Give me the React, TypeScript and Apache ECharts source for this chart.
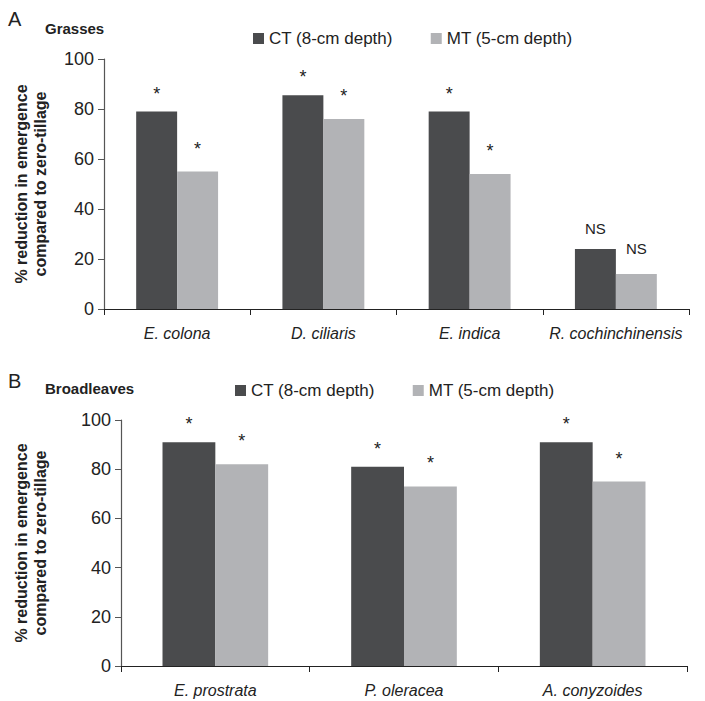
import React, { useEffect, useRef } from "react";
import * as echarts from "echarts";

const grassCats = ["E. colona", "D. ciliaris", "E. indica", "R. cochinchinensis"];
const grassCT = [79, 85.5, 79, 24];
const grassMT = [55, 76, 54, 14];
const grassSigCT = ["*", "*", "*", "NS"];
const grassSigMT = ["*", "*", "*", "NS"];

const broadCats = ["E. prostrata", "P. oleracea", "A. conyzoides"];
const broadCT = [91, 81, 91];
const broadMT = [82, 73, 75];
const broadSigCT = ["*", "*", "*"];
const broadSigMT = ["*", "*", "*"];

const seriesNames = ["CT (8-cm depth)", "MT (5-cm depth)"];

const DARK = "#4a4b4d";
const LIGHT = "#b2b3b6";
const FONT = "'Liberation Sans', Arial, sans-serif";

function sigData(values: number[], sig: string[], baseDist: number) {
  return values.map((v, i) => {
    const isNS = sig[i] === "NS";
    return {
      value: v,
      label: {
        show: true,
        position: "top",
        formatter: sig[i],
        distance: isNS ? baseDist + 4 : baseDist,
        fontSize: isNS ? 15 : 18,
        fontFamily: FONT,
        color: "#222",
      },
    };
  });
}

export default function App() {
  const ref = useRef<HTMLDivElement>(null);
  useEffect(() => {
    document.body.style.margin = "0";
    const chart = echarts.init(ref.current!, null, { renderer: "svg" });
    const axisCommonY = (gi: number) => ({
      type: "value",
      gridIndex: gi,
      min: 0,
      max: 100,
      interval: 20,
      splitLine: { show: false },
      axisLine: { show: true, lineStyle: { color: "#555", width: 1.2 } },
      axisTick: { show: true, length: 6, lineStyle: { color: "#555" } },
      axisLabel: { fontSize: 18, fontFamily: FONT, color: "#222", margin: 10 },
    });
    const axisCommonX = (gi: number, data: string[]) => ({
      type: "category",
      gridIndex: gi,
      data,
      axisLine: { show: true, lineStyle: { color: "#222", width: 1.2 } },
      axisTick: { show: true, length: 6, inside: false, lineStyle: { color: "#222" } },
      axisLabel: { interval: 0, fontSize: 16, fontStyle: "italic", fontFamily: FONT, color: "#222", margin: 16 },
    });
    const barCommon = {
      type: "bar",
      barWidth: "28%",
      barGap: "0%",
    };
    const legendCommon = {
      data: seriesNames,
      itemWidth: 11,
      itemHeight: 11,
      itemGap: 38,
      icon: "rect",
      textStyle: { fontSize: 17, fontFamily: FONT, color: "#222" },
    };
    const yTitle = (y: number) => ({
      type: "text",
      x: 31,
      y,
      rotation: Math.PI / 2,
      style: {
        text: "% reduction in emergence\ncompared to zero-tillage",
        fontSize: 16,
        fontWeight: "bold",
        fontFamily: FONT,
        fill: "#222",
        align: "center",
        verticalAlign: "middle",
        lineHeight: 19,
      },
    });
    const option: any = {
      animation: false,
      textStyle: { fontFamily: FONT },
      grid: [
        { left: 104, right: 16, top: 59, height: 250 },
        { left: 121, right: 18, top: 420, height: 246 },
      ],
      legend: [
        { ...legendCommon, left: 248, top: 25 },
        { ...legendCommon, left: 230, top: 377 },
      ],
      xAxis: [axisCommonX(0, grassCats), axisCommonX(1, broadCats)],
      yAxis: [axisCommonY(0), axisCommonY(1)],
      series: [
        { ...barCommon, name: seriesNames[0], xAxisIndex: 0, yAxisIndex: 0, itemStyle: { color: DARK }, data: sigData(grassCT, grassSigCT, 9) },
        { ...barCommon, name: seriesNames[1], xAxisIndex: 0, yAxisIndex: 0, itemStyle: { color: LIGHT }, data: sigData(grassMT, grassSigMT, 14) },
        { ...barCommon, name: seriesNames[0], xAxisIndex: 1, yAxisIndex: 1, itemStyle: { color: DARK }, data: sigData(broadCT, broadSigCT, 9) },
        { ...barCommon, name: seriesNames[1], xAxisIndex: 1, yAxisIndex: 1, itemStyle: { color: LIGHT }, data: sigData(broadMT, broadSigMT, 14) },
      ],
      graphic: [
        { type: "text", left: 8, top: 9, style: { text: "A", fontSize: 20, fontFamily: FONT, fill: "#222" } },
        { type: "text", left: 45, top: 21, style: { text: "Grasses", fontSize: 15, fontWeight: "bold", fontFamily: FONT, fill: "#222" } },
        { type: "text", left: 8, top: 371, style: { text: "B", fontSize: 20, fontFamily: FONT, fill: "#222" } },
        { type: "text", left: 45, top: 381, style: { text: "Broadleaves", fontSize: 15, fontWeight: "bold", fontFamily: FONT, fill: "#222" } },
        yTitle(184),
        yTitle(543),
      ],
    };
    chart.setOption(option);
    return () => chart.dispose();
  }, []);
  return <div ref={ref} style={{ width: 705, height: 701 }} />;
}
